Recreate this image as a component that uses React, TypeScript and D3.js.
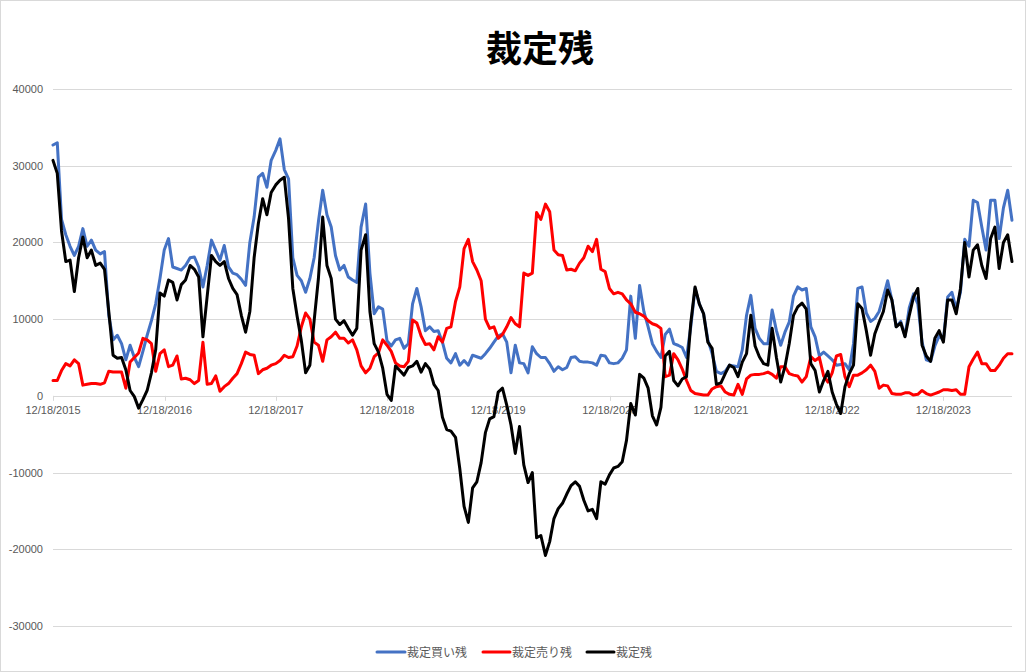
import React from 'react';
import * as d3 from 'd3';

// 裁定残 — biweekly readings from 12/18/2015
const buyRemain: number[] = [
  32700, 33000, 23000, 21000, 19500, 18300, 19500, 21800, 19500, 20300,
  19000, 18500, 18800, 10500, 7300, 7900, 6800, 4700, 6600, 5000,
  3800, 5800, 7900, 9800, 12000, 15300, 19000, 20500, 16800, 16600,
  16400, 17000, 18000, 18100, 16800, 14200, 17000, 20300, 19000, 17700,
  19600, 16800, 16000, 15800, 15200, 14400, 20000, 23300, 28500, 29000,
  27200, 30700, 32000, 33500, 29500, 28300, 18000, 15700, 15000, 13500,
  15300, 18000, 22700, 26800, 23600, 22000, 18300, 16400, 17000, 15500,
  15100, 14800, 22000, 25000, 16000, 10700, 11600, 11300, 7200, 6500,
  7300, 7500, 6200, 6800, 12000, 14000, 11600, 8500, 9000, 8400,
  8500, 7000, 4900, 4300, 5500, 4000, 4600, 4000, 5300, 5100,
  4900, 5500, 6200, 7000, 7800, 8100, 7000, 3000, 6600, 4300,
  4200, 3000, 6400, 5500, 5000, 5000, 4200, 3200, 3800, 3400,
  3700, 5000, 5100, 4500, 4400, 4400, 4300, 4000, 5300, 5200,
  4300, 4200, 4300, 4900, 6000, 13000, 7500, 14400, 11000, 9000,
  6800, 5800, 5000, 8000, 8700, 6800, 6600, 6300, 5000, 9000,
  14000, 12000, 10700, 7300, 5500, 3200, 2900, 3200, 4000, 3900,
  3800, 6000, 10500, 13100, 8800, 7500, 6800, 6800, 11200, 8500,
  6600, 8300, 9600, 13000, 14200, 13800, 14000, 9000, 7700, 5200,
  5700, 5200, 4700, 4000, 4100, 4200, 3400, 6800, 14000, 14200,
  10800, 9700, 10100, 11000, 12900, 15000, 12500, 9000, 9700, 7800,
  11500, 13300, 12000, 7000, 4700, 4500, 6500, 7800, 7300, 12900,
  13500, 11300, 13500, 20400, 19500, 25500, 25200, 22000, 19000, 25500,
  25500, 20500, 24500, 26800, 22900,
];

const sellRemain: number[] = [
  2000, 2000, 3300, 4200, 3900, 4700, 4200, 1400, 1500, 1600,
  1600, 1500, 1700, 3200, 3100, 3100, 3100, 1000, 4400, 5000,
  5600, 7500, 7300, 6800, 3200, 5500, 6000, 3800, 4000, 5200,
  2200, 2300, 2100, 1600, 2000, 7000, 1500, 1600, 2600, 600,
  1200, 1600, 2300, 2900, 4200, 5700, 5400, 5300, 2900, 3400,
  3600, 4000, 4200, 4600, 5300, 5000, 5100, 6500, 9000, 10800,
  10000, 7000, 6600, 4500, 7300, 7700, 8300, 7500, 7500, 6900,
  7300, 6000, 3900, 3000, 3600, 5100, 5600, 7300, 6600, 5800,
  4300, 3900, 3800, 4500, 9900, 9500, 7800, 6700, 6800, 6000,
  7700, 7000, 8800, 9000, 12300, 14200, 19200, 20400, 17500, 16400,
  15000, 10000, 8800, 9000, 7500, 8000, 9000, 10200, 9400, 9000,
  16000, 15700, 16000, 23900, 23000, 25000, 24000, 19000, 18400, 18300,
  16400, 16500, 16300, 17300, 18000, 19500, 18800, 20400, 16500, 16200,
  14000, 13300, 13500, 13300, 12500, 12000, 10900, 10700, 10400, 9800,
  9400, 9200, 8800, 2500, 2700, 5500, 4700, 3500, 2000, 700,
  300, 200, 100, 100, 900, 1200, 1300, 500, 200, 100,
  1500, 200, 2200, 2700, 2800, 2800, 2900, 3100, 2800, 2300,
  3800, 3800, 2900, 2700, 2600, 1800, 2500, 5100, 4600, 5000,
  2600, 1800, 3000, 5200, 5400, 2500, 1200, 2700, 2700, 3000,
  3400, 4000, 3200, 1000, 1400, 1300, 300, 200, 200, 400,
  400, 100, 200, 700, 300, 100, 300, 500, 800, 800,
  700, 800, 200, 200, 3800, 4800, 5700, 4200, 4200, 3300,
  3300, 4000, 4900, 5500, 5500,
];

const netRemain: number[] = [
  30700, 29000, 21500, 17500, 17700, 13600, 18000, 20700, 18000, 19000,
  17000, 17300, 16500, 11000, 5300, 4900, 5000, 3400, 700, -100,
  -1600, -500, 700, 3000, 6000, 13400, 13000, 15100, 14800, 12500,
  14500, 15100, 17000, 16500, 15500, 7700, 13000, 18300, 17500, 17000,
  17500, 15300, 14000, 13200, 10500, 8300, 11000, 18000, 22500, 25700,
  23600, 26500, 27500, 28100, 28500, 23100, 14000, 10400, 7200, 3000,
  4000, 9800, 15300, 23300, 17000, 15300, 10000, 9300, 9800, 8800,
  7900, 8800, 19000, 21000, 11000, 6800, 5700, 3600, 200, -600,
  3900, 3300, 2700, 3700, 3900, 4500, 3100, 4200, 3500, 1500,
  700, -2800, -4400, -4600, -5400, -9500, -14400, -16500, -12000, -11200,
  -8700, -4800, -3000, -2700, 500, 1000, -1200, -3800, -7500, -4000,
  -9000, -11300, -10000, -18500, -18200, -20800, -19000, -16000, -14700, -14000,
  -12800, -11700, -11200, -11800, -13600, -15000, -14800, -16000, -11200, -11500,
  -10300, -9400, -9200, -8600, -5800, -1000, -2500, 2800, 2300, 1000,
  -2600, -3800, -1500, 5200, 5800, 2000, 1300, 2200, 2500, 9500,
  14200, 12000, 10700, 7000, 6200, 1500, 1700, 2900, 4000, 3700,
  2500, 4400, 5500, 10500, 6500, 5100, 4200, 4000, 8800, 5000,
  1800, 3800, 6800, 10500, 11600, 12100, 11300, 4200, 3300, 500,
  2000, 3200, 500, -1100, -2300, 1200, 2900, 4000, 12000, 11400,
  8500, 5300, 8100, 9600, 11000, 13800, 12500, 9000, 9500, 7700,
  10500, 12900, 14000, 6600, 5200, 4500, 7500, 8500, 7000, 12500,
  12500, 10700, 14000, 20000, 15500, 19000, 19700, 17000, 15300, 20500,
  22000, 16600, 20000, 21000, 17500,
];

const yTicks: number[] = [40000, 30000, 20000, 10000, 0, -10000, -20000, -30000];
const xTickLabels: string[] = [
  '12/18/2015', '12/18/2016', '12/18/2017', '12/18/2018', '12/18/2019',
  '12/18/2020', '12/18/2021', '12/18/2022', '12/18/2023',
];

const seriesNames = ['裁定買い残', '裁定売り残', '裁定残'];
const seriesColors = ['#4472C4', '#FF0000', '#000000'];

const WIDTH = 1026;
const HEIGHT = 672;
const parseDate = d3.timeParse('%m/%d/%Y');

const App: React.FC = () => {
  const start = parseDate(xTickLabels[0]) as Date;
  const tickDates = xTickLabels.map(s => parseDate(s) as Date);

  const xScale = d3
    .scaleTime()
    .domain([tickDates[0], tickDates[tickDates.length - 1]])
    .range([53, 943.4]);

  const yScale = d3.scaleLinear().domain([-30000, 40000]).range([626, 89]);

  // sample i sits 1/26 year after the start
  const dateAt = (i: number) => d3.timeDay.offset(start, Math.round((i * 365.25) / 26));

  const line = d3
    .line<number>()
    .x((_, i) => xScale(dateAt(i)))
    .y(d => yScale(d));

  const allSeries = [buyRemain, sellRemain, netRemain];
  const plotLeft = 53;
  const plotRight = 1012;

  // legend layout
  const legendItems = [
    { x: 377, w: 28 },
    { x: 483, w: 27 },
    { x: 587, w: 27 },
  ];

  return (
    <svg
      width={WIDTH}
      height={HEIGHT}
      style={{ position: 'absolute', left: 0, top: 0, background: '#fff' }}
    >
      <rect x={0.5} y={0.5} width={WIDTH - 1} height={HEIGHT - 1} fill="#fff" stroke="#d9d9d9" />

      {/* title */}
      <text
        x={540}
        y={62}
        textAnchor="middle"
        fontFamily="'Noto Sans CJK JP', sans-serif"
        fontWeight="bold"
        fontSize={36}
        fill="#000"
      >
        裁定残
      </text>

      {/* gridlines + y labels */}
      {yTicks.map(t => (
        <g key={t}>
          <line
            x1={plotLeft}
            x2={plotRight}
            y1={Math.round(yScale(t)) + 0.5}
            y2={Math.round(yScale(t)) + 0.5}
            stroke="#d9d9d9"
            strokeWidth={1}
          />
          <text
            x={43}
            y={yScale(t) + 4}
            textAnchor="end"
            fontFamily="'Liberation Sans', Arial, sans-serif"
            fontSize={11}
            fill="#595959"
          >
            {t}
          </text>
        </g>
      ))}

      {/* x ticks at zero line */}
      {tickDates.map((d, i) => {
        const x = Math.round(xScale(d)) + 0.5;
        return (
          <g key={xTickLabels[i]}>
            <line x1={x} x2={x} y1={yScale(0)} y2={yScale(0) + 5} stroke="#d9d9d9" />
            <text
              x={xScale(d)}
              y={414}
              textAnchor="middle"
              fontFamily="'Liberation Sans', Arial, sans-serif"
              fontSize={11}
              fill="#595959"
            >
              {xTickLabels[i]}
            </text>
          </g>
        );
      })}

      {/* series */}
      {allSeries.map((s, k) => (
        <path
          key={seriesNames[k]}
          d={line(s) ?? ''}
          fill="none"
          stroke={seriesColors[k]}
          strokeWidth={3}
          strokeLinejoin="round"
          strokeLinecap="round"
        />
      ))}

      {/* legend */}
      {legendItems.map((it, k) => (
        <g key={seriesNames[k]}>
          <line
            x1={it.x}
            x2={it.x + it.w}
            y1={652}
            y2={652}
            stroke={seriesColors[k]}
            strokeWidth={3}
            strokeLinecap="round"
          />
          <text
            x={it.x + it.w + 2}
            y={656.5}
            fontFamily="'Noto Sans CJK JP', sans-serif"
            fontSize={12}
            fill="#595959"
          >
            {seriesNames[k]}
          </text>
        </g>
      ))}
    </svg>
  );
};

export default App;
